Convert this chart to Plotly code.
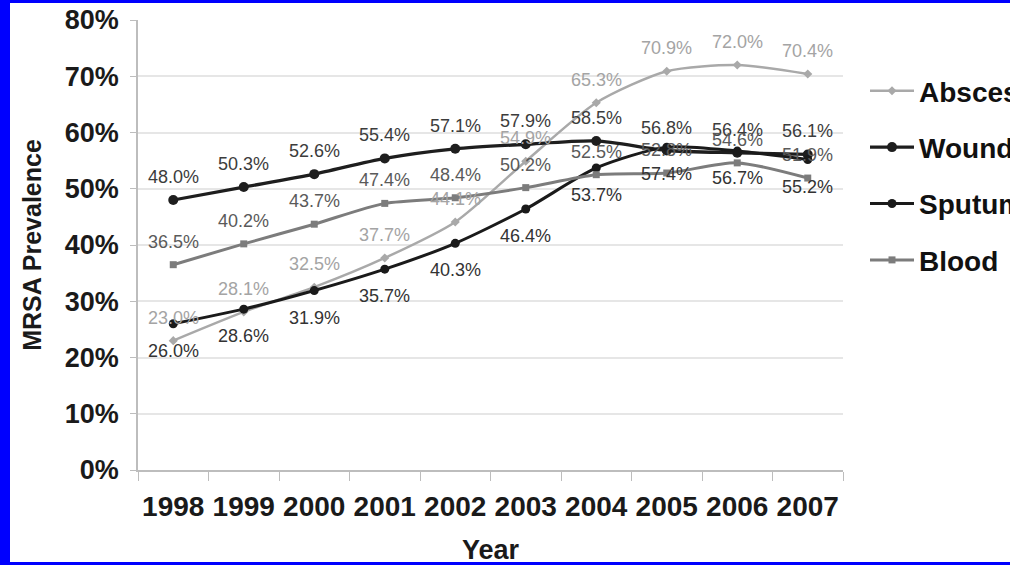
import plotly.graph_objects as go

# MRSA prevalence by specimen type, 1998-2007 (percent)
years = ["1998", "1999", "2000", "2001", "2002", "2003", "2004", "2005", "2006", "2007"]
abscess = [23.0, 28.1, 32.5, 37.7, 44.1, 54.9, 65.3, 70.9, 72.0, 70.4]
wound = [48.0, 50.3, 52.6, 55.4, 57.1, 57.9, 58.5, 56.8, 56.4, 56.1]
sputum = [26.0, 28.6, 31.9, 35.7, 40.3, 46.4, 53.7, 57.4, 56.7, 55.2]
blood = [36.5, 40.2, 43.7, 47.4, 48.4, 50.2, 52.5, 52.8, 54.6, 51.9]

y_ticks = [0, 10, 20, 30, 40, 50, 60, 70, 80]
y_tick_text = ["0%", "10%", "20%", "30%", "40%", "50%", "60%", "70%", "80%"]

W, H = 1010, 565
ML, MR, MT, MB = 138, 167, 20, 95

FONT = "Liberation Sans"

# name, values, line colour, label colour, line width, marker, label side
series = [
    ("Abscess", abscess, "#a9a9a9", "#a4a4a4", 2.5, dict(symbol="diamond", size=7), 1),
    ("Wound", wound, "#1e1e1e", "#3c3c3c", 3.3, dict(symbol="circle", size=10), 1),
    ("Sputum", sputum, "#1a1a1a", "#333333", 3.0, dict(symbol="circle", size=9), -1),
    ("Blood", blood, "#7c7c7c", "#5a5a5a", 3.0, dict(symbol="square", size=7), 1),
]

fig = go.Figure()
for name, vals, lc, tc, lw, mk, side in series:
    fig.add_trace(go.Scatter(
        x=years, y=vals, name=name, mode="lines+markers",
        line=dict(color=lc, width=lw, shape="spline", smoothing=0.7),
        marker=dict(color=lc, **mk),
        legendgroup=name,
    ))

# value labels above (or below) each point; x is the category index
annotations = []
for name, vals, lc, tc, lw, mk, side in series:
    for i, v in enumerate(vals):
        annotations.append(dict(
            x=i, y=v, xref="x", yref="y", text=f"{v:.1f}%", showarrow=False,
            xanchor="center", yanchor="middle",
            yshift=23 if side > 0 else -27,
            font=dict(family=FONT, size=18, color=tc),
        ))

# blue frame on left, top and bottom edges
pw = W - ML - MR
ph = H - MT - MB


def px_x(px):
    return (px - ML) / pw


def px_y(py):
    return (H - MB - py) / ph


shapes = []
for x0, x1, y0, y1 in [(0, 10, 0, 565), (0, 1010, 0, 3), (0, 1010, 562, 565)]:
    shapes.append(dict(
        type="rect", xref="paper", yref="paper",
        x0=px_x(x0), x1=px_x(x1), y0=px_y(y1), y1=px_y(y0),
        fillcolor="#0000fe", line=dict(width=0), layer="above",
    ))

fig.update_layout(
    width=W, height=H,
    margin=dict(l=ML, r=MR, t=MT, b=MB, autoexpand=False),
    paper_bgcolor="white", plot_bgcolor="white",
    font=dict(family=FONT, color="#1a1a1a"),
    showlegend=True,
    legend=dict(
        x=px_x(865), y=px_y(66), xanchor="left", yanchor="top",
        font=dict(family=FONT, size=28, color="#111111", weight="bold"),
        tracegroupgap=17, itemwidth=44, bgcolor="rgba(0,0,0,0)",
        traceorder="grouped",
    ),
    annotations=annotations,
    shapes=shapes,
    xaxis=dict(
        type="category", range=[-0.5, 9.5], tickangle=0,
        tickson="boundaries", ticks="outside", ticklen=9, tickcolor="#bdbdbd", tickwidth=1,
        ticklabelstandoff=11,
        showline=True, linecolor="#bdbdbd", linewidth=1.5,
        showgrid=False,
        tickfont=dict(family=FONT, size=28, color="#1a1a1a", weight="bold"),
        title=dict(text="Year", font=dict(family=FONT, size=27, color="#1a1a1a", weight="bold"), standoff=26),
    ),
    yaxis=dict(
        range=[0, 80], tickmode="array", tickvals=y_ticks, ticktext=y_tick_text,
        ticks="outside", ticklen=6, tickcolor="#bdbdbd", ticklabelstandoff=6,
        showline=True, linecolor="#bdbdbd", linewidth=1.5,
        showgrid=True, gridcolor="#e6e6e6", gridwidth=1.5,
        zeroline=False,
        tickfont=dict(family=FONT, size=27, color="#1a1a1a", weight="bold"),
        title=dict(text="MRSA Prevalence", font=dict(family=FONT, size=25, color="#1a1a1a", weight="bold"), standoff=16),
    ),
)

fig.write_html("out.html")
